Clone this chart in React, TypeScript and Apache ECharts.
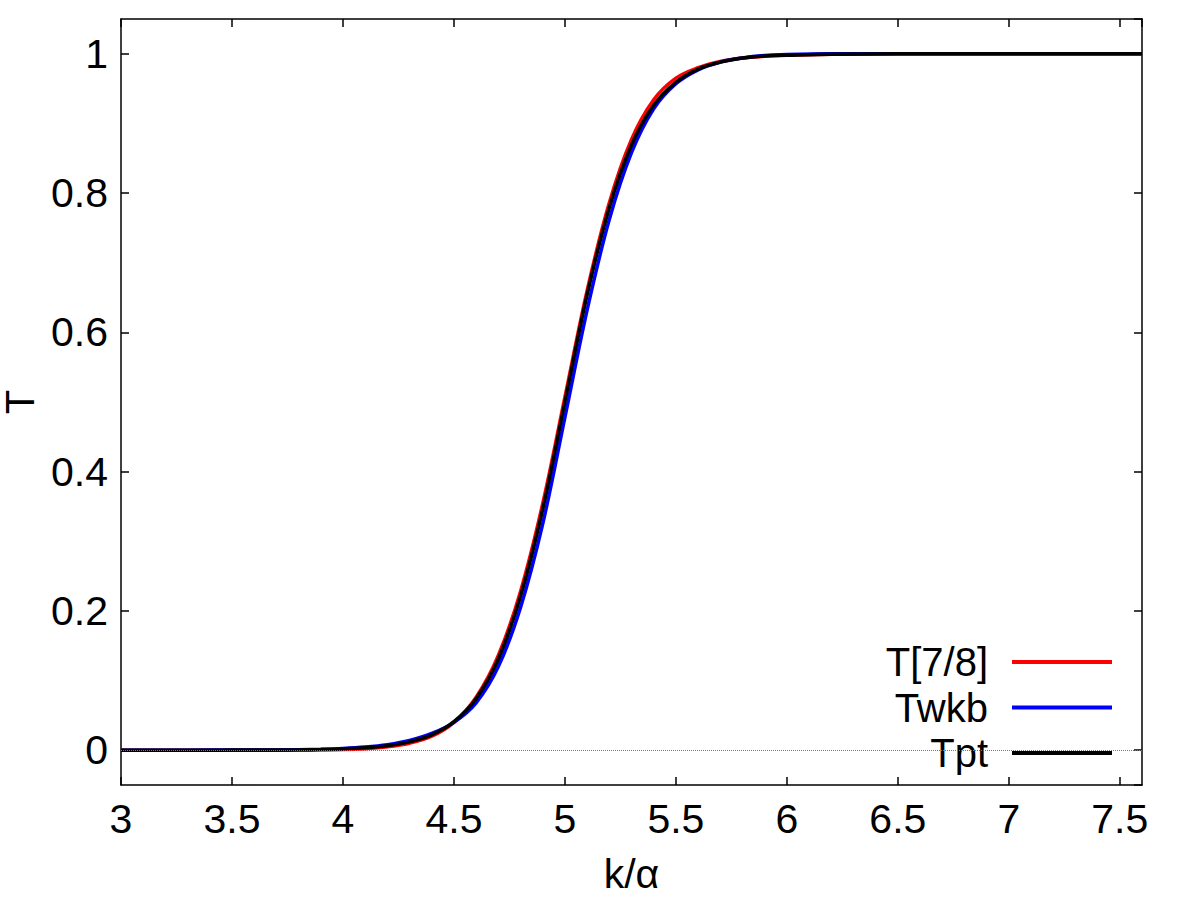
import React, { useEffect, useRef } from "react";
import * as echarts from "echarts";

// k/α sample positions
const K = [
  3.0, 3.2, 3.4, 3.5, 3.6, 3.7, 3.8, 3.9, 4.0, 4.1, 4.2, 4.3, 4.4, 4.5, 4.6, 4.7,
  4.8, 4.9, 5.0, 5.1, 5.2, 5.3, 5.4, 5.5, 5.6, 5.7, 5.8, 5.9, 6.0, 6.2, 6.5, 7.0, 7.6,
];

// T[7/8]
const T78 = [
  0, 0, 0, 0, 0.0, 0.0001, 0.0002, 0.0005, 0.001, 0.0022, 0.0048, 0.01, 0.02, 0.04,
  0.076, 0.136, 0.228, 0.354, 0.507, 0.66, 0.786, 0.877, 0.934, 0.965, 0.98, 0.989,
  0.994, 0.9965, 0.998, 0.9993, 1, 1, 1,
];

// Twkb
const TWKB = [
  0, 0, 0.0001, 0.0001, 0.0002, 0.0004, 0.0008, 0.0014, 0.0025, 0.0045, 0.008, 0.014,
  0.024, 0.04, 0.068, 0.12, 0.205, 0.325, 0.478, 0.632, 0.762, 0.858, 0.921, 0.957,
  0.977, 0.988, 0.994, 0.9975, 0.999, 1, 1, 1, 1,
];

// Tpt
const TPT = [
  0, 0, 0, 0.0001, 0.0001, 0.0003, 0.0005, 0.001, 0.0018, 0.0034, 0.0064, 0.012,
  0.022, 0.041, 0.074, 0.131, 0.221, 0.346, 0.5, 0.654, 0.779, 0.869, 0.926, 0.959,
  0.978, 0.988, 0.994, 0.997, 0.998, 0.9995, 1, 1, 1,
];

const NAMES = ["T[7/8]", "Twkb", "Tpt"];
const COLORS = ["#ff0000", "#0000ff", "#000000"];

const FONT = "'Liberation Sans', Arial, sans-serif";

export default function App() {
  const ref = useRef<HTMLDivElement>(null);

  useEffect(() => {
    document.body.style.margin = "0";
    if (!ref.current) return;
    const chart = echarts.init(ref.current, undefined, { renderer: "svg" });

    const pairs = (ys: number[]) => K.map((k, i) => [k, ys[i]]);
    const seriesData = [T78, TWKB, TPT];

    const axisLine = { show: true, onZero: false, lineStyle: { color: "#000", width: 1.5 } };
    const axisTick = { show: true, inside: true, length: 8, lineStyle: { color: "#000", width: 1.5 } };

    chart.setOption({
      animation: false,
      backgroundColor: "#ffffff",
      textStyle: { fontFamily: FONT },
      grid: {
        left: 121,
        right: 58,
        top: 19,
        bottom: 115,
        containLabel: false,
        outerBoundsMode: "none",
      },
      legend: {
        orient: "vertical",
        right: 83,
        top: 637,
        align: "right",
        icon: "rect",
        itemWidth: 100,
        itemHeight: 4,
        itemGap: 5.5,
        data: NAMES,
        textStyle: {
          fontFamily: FONT,
          fontSize: 40,
          lineHeight: 40,
          color: "#000",
          padding: [0, 19, 0, 0],
        },
      },
      xAxis: [
        {
          type: "value",
          min: 3,
          max: 7.6,
          interval: 0.5,
          position: "bottom",
          name: "k/α",
          nameLocation: "middle",
          nameGap: 68,
          nameTextStyle: { fontFamily: FONT, fontSize: 41, color: "#000" },
          axisLine,
          axisTick,
          splitLine: { show: false },
          axisLabel: {
            fontFamily: FONT,
            fontSize: 41,
            color: "#000",
            margin: 13,
            showMaxLabel: false,
          },
        },
        {
          type: "value",
          min: 3,
          max: 7.6,
          interval: 0.5,
          position: "top",
          axisLine,
          axisTick,
          splitLine: { show: false },
          axisLabel: { show: false },
        },
      ],
      yAxis: [
        {
          type: "value",
          min: -0.05,
          max: 1.05,
          splitNumber: 5,
          position: "left",
          name: "T",
          nameLocation: "middle",
          nameGap: 76,
          nameTextStyle: { fontFamily: FONT, fontSize: 40, lineHeight: 30, color: "#000" },
          axisLine,
          axisTick,
          splitLine: { show: false },
          axisLabel: {
            fontFamily: FONT,
            fontSize: 41,
            color: "#000",
            margin: 13,
            showMinLabel: false,
            showMaxLabel: false,
          },
        },
        {
          type: "value",
          min: -0.05,
          max: 1.05,
          splitNumber: 5,
          position: "right",
          axisLine,
          axisTick,
          splitLine: { show: false },
          axisLabel: { show: false },
        },
      ],
      series: NAMES.map((name, i) => ({
        name,
        type: "line",
        xAxisIndex: 0,
        yAxisIndex: 0,
        data: pairs(seriesData[i]),
        showSymbol: false,
        symbol: "none",
        smooth: 0.35,
        color: COLORS[i],
        lineStyle: { color: COLORS[i], width: 3.5 },
        z: 2 + i,
        markLine:
          i === 0
            ? {
                silent: true,
                symbol: "none",
                label: { show: false },
                lineStyle: { color: "#777", type: "dotted", width: 1 },
                data: [{ yAxis: 0 }],
              }
            : undefined,
      })),
    });

    return () => chart.dispose();
  }, []);

  return <div ref={ref} style={{ width: 1200, height: 900 }} />;
}
